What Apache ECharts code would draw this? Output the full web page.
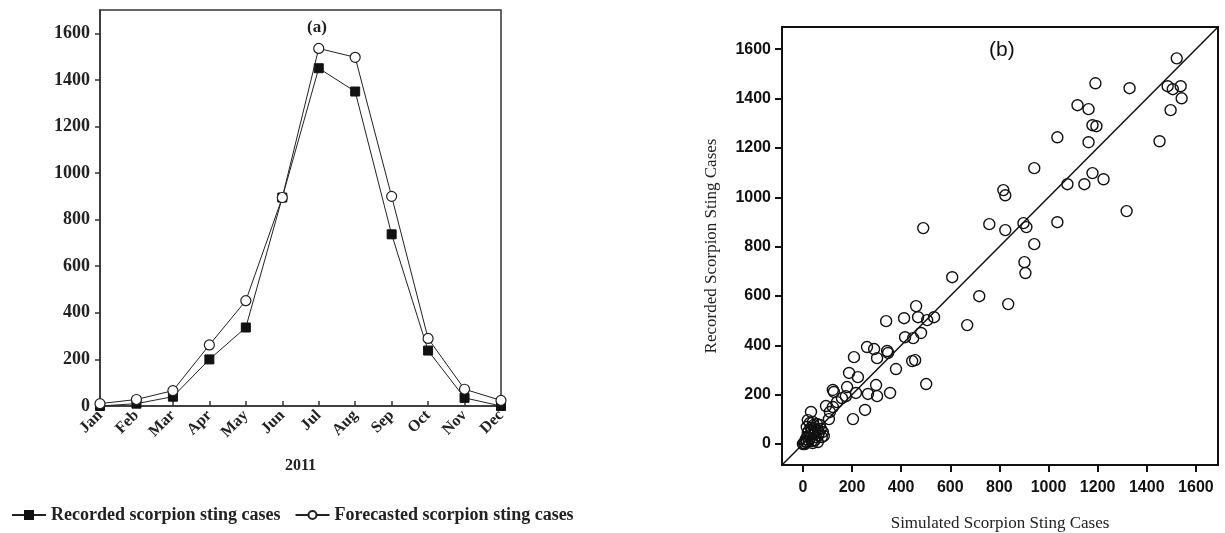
<!DOCTYPE html>
<html>
<head>
<meta charset="utf-8">
<script src="https://cdn.jsdelivr.net/npm/echarts@6/dist/echarts.min.js"></script>
<style>
  html, body { margin: 0; padding: 0; background: #fff; }
  #main { width: 1225px; height: 533px; }
</style>
</head>
<body>
<div id="main"></div>
<script>
// ---- panel (a) data ----
var months = ["Jan", "Feb", "Mar", "Apr", "May", "Jun", "Jul", "Aug", "Sep", "Oct", "Nov", "Dec"];
var recorded = [0, 10, 40, 200, 337, 895, 1450, 1350, 737, 238, 35, 0];
var forecasted = [10, 28, 66, 262, 452, 895, 1535, 1497, 900, 290, 72, 24];
var leftTicks = [0, 200, 400, 600, 800, 1000, 1200, 1400, 1600];

// ---- panel (b) data: [simulated, recorded] ----
var scatterPts = [
  [1522, 1563], [1191, 1462], [1330, 1442], [1485, 1450], [1506, 1438], [1538, 1450],
  [1542, 1401], [1497, 1353], [1118, 1373], [1163, 1357], [1179, 1292], [1195, 1288],
  [1036, 1243], [1163, 1223], [1452, 1227], [942, 1118], [1077, 1053], [1146, 1053],
  [1179, 1098], [1224, 1073], [816, 1029], [824, 1008], [1318, 944], [490, 875],
  [759, 891], [824, 867], [898, 895], [910, 879], [1036, 899], [942, 810],
  [902, 737], [906, 693], [608, 676], [718, 599], [836, 567], [669, 482],
  [461, 559], [339, 498], [412, 510], [469, 514], [506, 502], [534, 514],
  [416, 433], [449, 429], [481, 450], [261, 393], [290, 385], [302, 348],
  [343, 377], [347, 369], [445, 336], [457, 340], [379, 304], [502, 243],
  [208, 352], [188, 288], [224, 271], [122, 219], [126, 211], [180, 231],
  [175, 194], [216, 207], [265, 203], [298, 239], [302, 194], [355, 207],
  [159, 186], [139, 170], [122, 150], [94, 154], [110, 130], [106, 101],
  [253, 138], [204, 101], [33, 130],
  [20, 97], [41, 89], [69, 77], [16, 69], [36, 57], [61, 57], [77, 28],
  [28, 36], [4, 4], [16, 8], [49, 16], [61, 8], [8, 0], [24, 12], [45, 40],
  [57, 81], [33, 65], [12, 20], [53, 28], [65, 45], [28, 85], [81, 49],
  [40, 4], [0, 0], [20, 45], [45, 65], [85, 33], [10, 10],
  [30, 24], [52, 52], [73, 61], [36, 12], [18, 30], [62, 36], [44, 77], [24, 53]
];
var rightTicks = [0, 200, 400, 600, 800, 1000, 1200, 1400, 1600];
var rightRange = [-85, 1690];

var serif = "'Liberation Serif', 'Times New Roman', serif";
var sans = "'Liberation Sans', Arial, sans-serif";
var plain = function (v) { return String(v); };

var chart = echarts.init(document.getElementById("main"), null, { renderer: "canvas" });

var option = {
  animation: false,
  backgroundColor: "#fff",
  title: [
    { text: "(a)", left: 302, top: 14, textStyle: { fontFamily: serif, fontWeight: "bold", fontSize: 17, color: "#222" } },
    { text: "(b)", left: 984, top: 35, textStyle: { fontFamily: sans, fontWeight: "normal", fontSize: 21, color: "#111" } }
  ],
  legend: {
    left: 6,
    top: 501,
    itemWidth: 34,
    itemHeight: 10,
    itemGap: 14,
    data: ["Recorded scorpion sting cases", "Forecasted scorpion sting cases"],
    textStyle: { fontFamily: serif, fontWeight: "bold", fontSize: 18, color: "#222" }
  },
  grid: [
    { left: 100, top: 10, width: 401, height: 396, outerBoundsMode: "none", show: true, borderColor: "#333", borderWidth: 1.5 },
    { left: 782, top: 27, width: 436, height: 438, outerBoundsMode: "none", show: true, borderColor: "#111", borderWidth: 2 }
  ],
  xAxis: [
    {
      gridIndex: 0,
      type: "category",
      data: months,
      boundaryGap: false,
      name: "2011",
      nameLocation: "middle",
      nameGap: 52,
      nameTextStyle: { fontFamily: serif, fontWeight: "bold", fontSize: 16, color: "#222" },
      axisLine: { lineStyle: { color: "#333", width: 1.5 } },
      axisTick: { inside: true, length: 5, lineStyle: { color: "#333", width: 1.5 } },
      axisLabel: { rotate: 45, margin: 7, fontFamily: serif, fontWeight: "bold", fontSize: 16, color: "#222" },
      splitLine: { show: false }
    },
    {
      gridIndex: 1,
      type: "value",
      min: rightRange[0],
      max: rightRange[1],
      name: "Simulated Scorpion Sting Cases",
      nameLocation: "middle",
      nameGap: 50,
      nameTextStyle: { fontFamily: serif, fontSize: 17, color: "#222" },
      axisLine: { onZero: false, lineStyle: { color: "#111", width: 2 } },
      axisTick: { customValues: rightTicks, length: 7, lineStyle: { color: "#111", width: 2 } },
      axisLabel: { customValues: rightTicks, formatter: plain, margin: 15, fontFamily: sans, fontWeight: "bold", fontSize: 16, color: "#111" },
      splitLine: { show: false }
    }
  ],
  yAxis: [
    {
      gridIndex: 0,
      type: "value",
      min: 0,
      max: 1700,
      axisLine: { show: true, lineStyle: { color: "#333", width: 1.5 } },
      axisTick: { show: true, customValues: leftTicks, length: 5, lineStyle: { color: "#333", width: 1.5 } },
      axisLabel: { customValues: leftTicks, formatter: plain, margin: 10, fontFamily: serif, fontWeight: "bold", fontSize: 18, color: "#222" },
      splitLine: { show: false }
    },
    {
      gridIndex: 1,
      type: "value",
      min: rightRange[0],
      max: rightRange[1],
      name: "Recorded Scorpion Sting Cases",
      nameLocation: "middle",
      nameGap: 62,
      nameTextStyle: { fontFamily: serif, fontSize: 17, color: "#222" },
      axisLine: { show: true, onZero: false, lineStyle: { color: "#111", width: 2 } },
      axisTick: { show: true, customValues: rightTicks, length: 7, lineStyle: { color: "#111", width: 2 } },
      axisLabel: { customValues: rightTicks, formatter: plain, margin: 11, fontFamily: sans, fontWeight: "bold", fontSize: 16, color: "#111" },
      splitLine: { show: false }
    }
  ],
  series: [
    {
      name: "Recorded scorpion sting cases",
      type: "line",
      xAxisIndex: 0,
      yAxisIndex: 0,
      data: recorded,
      symbol: "rect",
      symbolSize: 9,
      lineStyle: { color: "#222", width: 1 },
      itemStyle: { color: "#111", borderColor: "#111", borderWidth: 1 },
      z: 2
    },
    {
      name: "Forecasted scorpion sting cases",
      type: "line",
      xAxisIndex: 0,
      yAxisIndex: 0,
      data: forecasted,
      symbol: "circle",
      symbolSize: 10,
      lineStyle: { color: "#222", width: 1 },
      itemStyle: { color: "#fff", borderColor: "#222", borderWidth: 1.2 },
      z: 3
    },
    {
      name: "fit",
      type: "line",
      xAxisIndex: 1,
      yAxisIndex: 1,
      data: [[rightRange[0], rightRange[0]], [rightRange[1], rightRange[1]]],
      symbol: "none",
      lineStyle: { color: "#111", width: 1.5 },
      silent: true,
      z: 2
    },
    {
      name: "scatter",
      type: "scatter",
      xAxisIndex: 1,
      yAxisIndex: 1,
      data: scatterPts,
      symbol: "circle",
      symbolSize: 11,
      itemStyle: { color: "rgba(0,0,0,0)", borderColor: "#111", borderWidth: 1.4, opacity: 1 },
      z: 3
    }
  ]
};

chart.setOption(option);
window.addEventListener("resize", chart.resize);
</script>
</body>
</html>
